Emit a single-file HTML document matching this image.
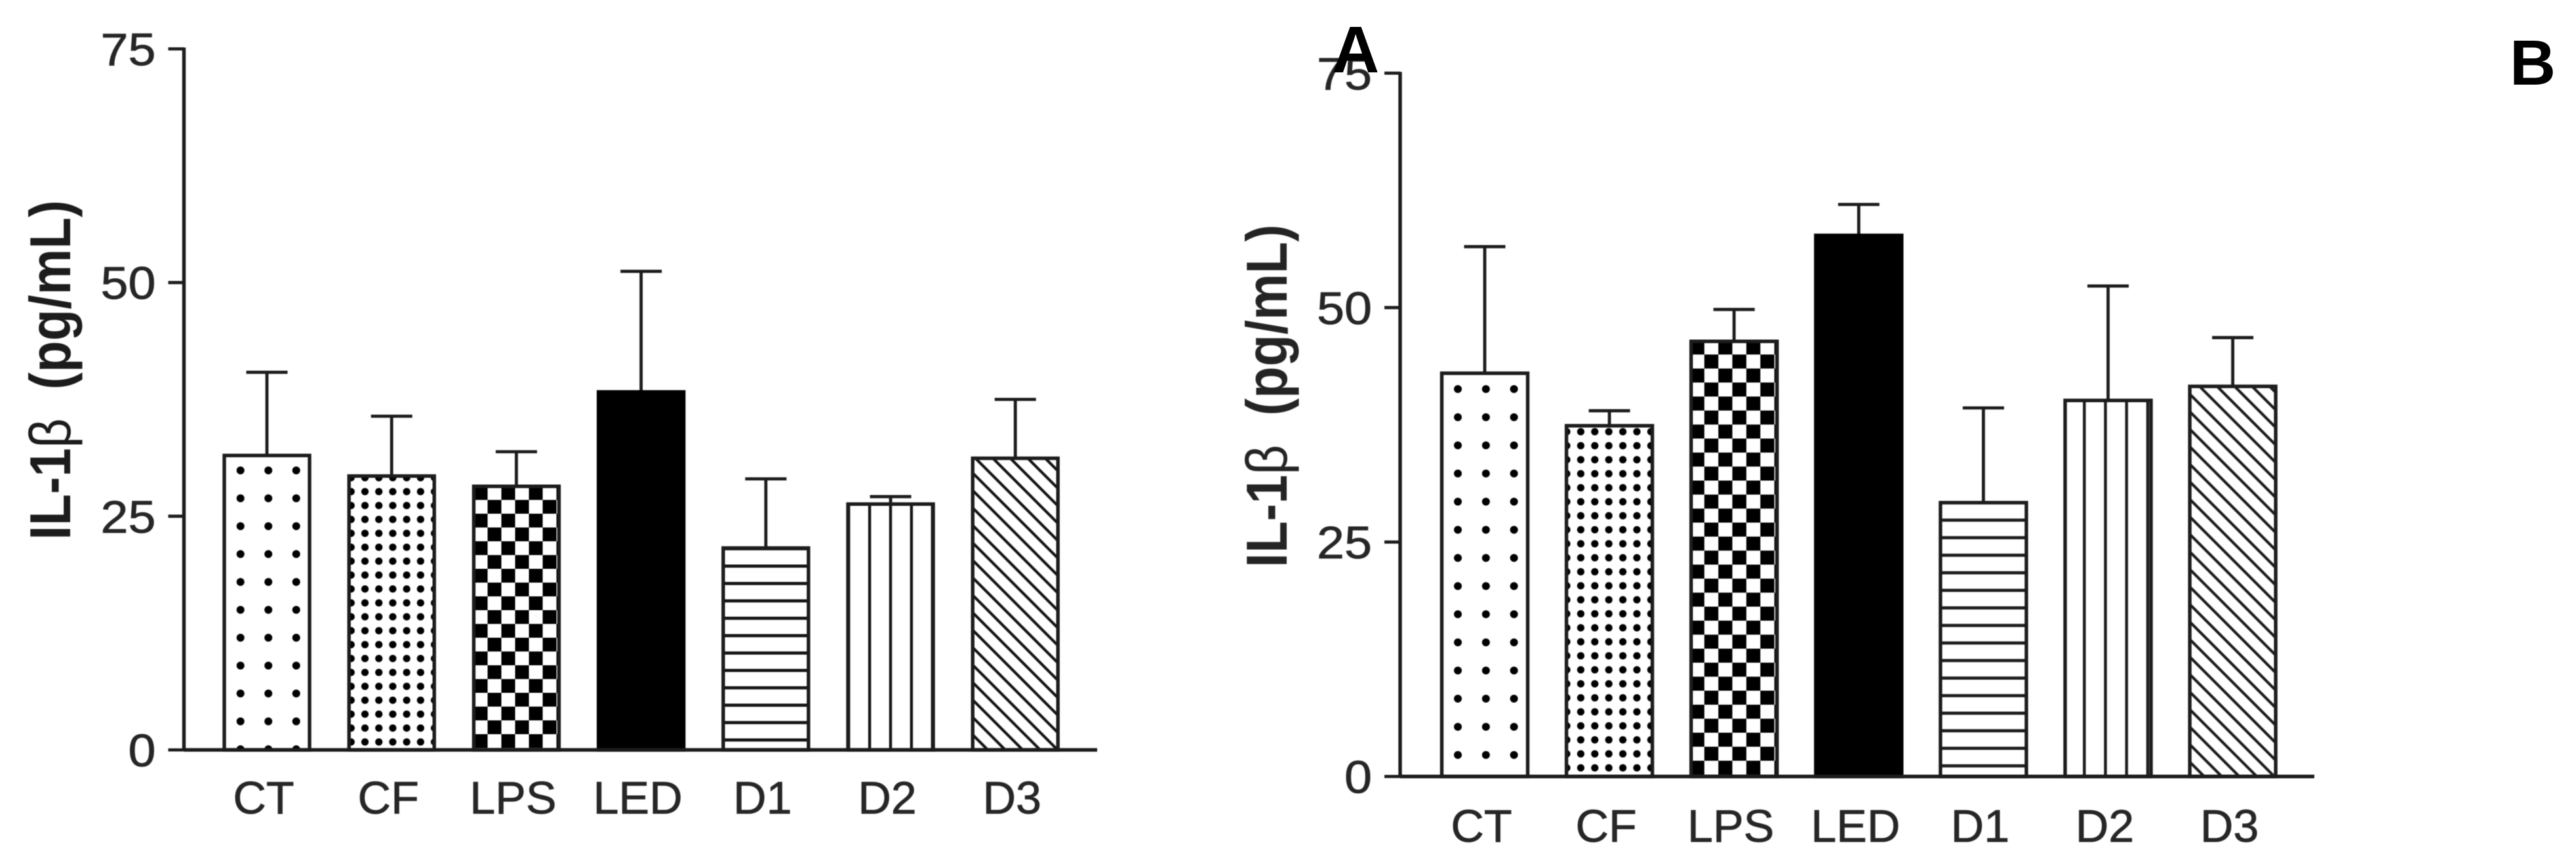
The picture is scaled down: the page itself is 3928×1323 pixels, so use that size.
<!DOCTYPE html>
<html lang="en">
<head>
<meta charset="utf-8">
<title>IL-1β bar charts</title>
<style>
  html, body { margin: 0; padding: 0; background: #fff; }
  svg { display: block; }
  text { font-family: "Liberation Sans", Arial, sans-serif; }
  .soft { filter: blur(0.6px); }
</style>
</head>
<body>
<svg id="figure" xmlns="http://www.w3.org/2000/svg" width="3928" height="1323" viewBox="0 0 3928 1323">
  <defs>
    <!-- Panel 1 fills -->
    <pattern id="a-ct" patternUnits="userSpaceOnUse" width="42.5" height="42.5" patternTransform="translate(345.45,695.75)"><circle cx="21.25" cy="21.25" r="6" fill="#000"/></pattern>
    <pattern id="a-cf" patternUnits="userSpaceOnUse" width="21.2" height="21.2" patternTransform="translate(545.9,738.7)"><circle cx="10.6" cy="10.6" r="5.6" fill="#000"/></pattern>
    <pattern id="a-lps" patternUnits="userSpaceOnUse" width="42" height="42" patternTransform="translate(722.5,741)"><rect x="0" y="0" width="21" height="21" fill="#000"/><rect x="21" y="21" width="21" height="21" fill="#000"/></pattern>
    <pattern id="a-led" patternUnits="userSpaceOnUse" width="10" height="10"><rect width="10" height="10" fill="#000"/></pattern>
    <pattern id="a-d1" patternUnits="userSpaceOnUse" width="20" height="26.5" patternTransform="translate(0,849.45)"><rect x="0" y="11" width="20" height="4.8" fill="#141414"/></pattern>
    <pattern id="a-d2" patternUnits="userSpaceOnUse" width="31.9" height="20" patternTransform="translate(1278.05,0)"><rect x="13.9" y="0" width="4.4" height="20" fill="#141414"/></pattern>
    <pattern id="a-d3" patternUnits="userSpaceOnUse" width="26.6" height="26.6" patternTransform="translate(1506.3,1143)"><path d="M-3 -3L29.6 29.6M-3 23.6L3 29.6M23.6 -3L29.6 3" stroke="#141414" stroke-width="4.2" fill="none"/></pattern>
    <!-- Panel 2 fills -->
    <pattern id="b-ct" patternUnits="userSpaceOnUse" width="42.8" height="42.9" patternTransform="translate(2201.6,571.55)"><circle cx="21.4" cy="21.45" r="6" fill="#000"/></pattern>
    <pattern id="b-cf" patternUnits="userSpaceOnUse" width="21.4" height="21.35" patternTransform="translate(2378.3,690)"><circle cx="10.7" cy="10.7" r="5.6" fill="#000"/></pattern>
    <pattern id="b-lps" patternUnits="userSpaceOnUse" width="42.7" height="42.7" patternTransform="translate(2577.5,519)"><rect x="0" y="0" width="21.35" height="21.35" fill="#000"/><rect x="21.35" y="21.35" width="21.35" height="21.35" fill="#000"/></pattern>
    <pattern id="b-led" patternUnits="userSpaceOnUse" width="10" height="10"><rect width="10" height="10" fill="#000"/></pattern>
    <pattern id="b-d1" patternUnits="userSpaceOnUse" width="20" height="26.75" patternTransform="translate(0,779.3)"><rect x="0" y="11.1" width="20" height="4.8" fill="#1c1c1c"/></pattern>
    <pattern id="b-d2" patternUnits="userSpaceOnUse" width="32.2" height="20" patternTransform="translate(3129.9,0)"><rect x="14" y="0" width="4.4" height="20" fill="#1c1c1c"/></pattern>
    <pattern id="b-d3" patternUnits="userSpaceOnUse" width="26.7" height="26.7" patternTransform="translate(3340,1162.3)"><path d="M-3 -3L29.7 29.7M-3 23.7L3 29.7M23.7 -3L29.7 3" stroke="#1c1c1c" stroke-width="4.2" fill="none"/></pattern>
  </defs>

  <g id="chart-left" class="soft">
    <text transform="translate(107,823) rotate(-90)" font-size="88" font-weight="700" fill="#1c1c1c" textLength="518" lengthAdjust="spacingAndGlyphs">IL-1<tspan font-weight="400">β</tspan>&#160;&#160;(pg/mL)</text>
  </g>
  <g id="chart-right" class="soft">
    <text transform="translate(1962,865) rotate(-90)" font-size="88" font-weight="700" fill="#242424" textLength="523" lengthAdjust="spacingAndGlyphs">IL-1<tspan font-weight="400">β</tspan>&#160;&#160;(pg/mL)</text>
  </g>

  <text id="panel-a" x="2031" y="110" font-size="100" font-weight="700" fill="#000">A</text>
  <text id="panel-b" x="3827" y="129" font-size="97" font-weight="700" fill="#000">B</text>
</svg>

<script>
const categories = ["CT", "CF", "LPS", "LED", "D1", "D2", "D3"];
const tickValues = [0, 25, 50, 75];
const leftMeans = [31.5, 29.3, 28.2, 38.3, 21.6, 26.3, 31.2];
const leftErrors = [8.9, 6.4, 3.7, 12.9, 7.4, 0.8, 6.3];
const rightMeans = [43.0, 37.4, 46.4, 57.7, 29.2, 40.1, 41.6];
const rightErrors = [13.5, 1.6, 3.4, 3.3, 10.1, 12.2, 5.2];
const fillKeys = ["ct", "cf", "lps", "led", "d1", "d2", "d3"];

const SVG_NS = "http://www.w3.org/2000/svg";
const INK = "#1c1c1c";

function make(parent, tag, attrs, text) {
  const el = document.createElementNS(SVG_NS, tag);
  for (const k in attrs) el.setAttribute(k, attrs[k]);
  if (text !== undefined) el.textContent = text;
  parent.appendChild(el);
  return el;
}

function drawChart(cfg, means, errors) {
  const root = document.getElementById(cfg.group);
  const yScale = v => cfg.y0 - (v / 75) * (cfg.y0 - cfg.y75);
  const xScale = i => cfg.x0 + i * cfg.step;

  categories.forEach((cat, i) => {
    const cx = xScale(i);
    const top = yScale(means[i]);
    const upper = yScale(means[i] + errors[i]);

    const stem = make(root, "line", { x1: cx, x2: cx, y1: top, y2: upper, stroke: INK, "stroke-width": 4.8 });
    
    

    const cap = make(root, "line", { x1: cx - cfg.cap / 2, x2: cx + cfg.cap / 2, y1: upper, y2: upper, stroke: INK, "stroke-width": 4.8 });
    
    

    const bar = make(root, "rect", {
      x: cx - cfg.barW / 2, y: top, width: cfg.barW, height: cfg.y0 - top,
      fill: "url(#" + cfg.prefix + "-" + fillKeys[i] + ")",
      stroke: i === 3 ? "#000" : INK, "stroke-width": 5.4
    });
    
    

    const label = make(root, "text", {
      x: cx - 5, y: cfg.labelY, "font-size": 70, "text-anchor": "middle", fill: "#262626",
      stroke: "#262626", "stroke-width": 0.8
    }, cat);
    
    
  });

  const yAxis = make(root, "line", { x1: cfg.axisX, x2: cfg.axisX, y1: yScale(75) - 2, y2: cfg.y0 + 2, stroke: INK, "stroke-width": 5.4 });
  
  

  const xAxis = make(root, "line", { x1: cfg.axisX, x2: cfg.axisEnd, y1: cfg.y0, y2: cfg.y0, stroke: INK, "stroke-width": 5.4 });
  
  

  tickValues.forEach(v => {
    const y = yScale(v);
    const tick = make(root, "line", { x1: cfg.axisX - 24, x2: cfg.axisX, y1: y, y2: y, stroke: INK, "stroke-width": 4.8 });
    
    

    const str = String(v);
    const tickLabel = make(root, "text", {
      x: cfg.axisX - 43, y: y + 25, "font-size": 70, "text-anchor": "end", fill: "#262626",
      stroke: "#262626", "stroke-width": 0.8,
      textLength: str.length * 42, lengthAdjust: "spacingAndGlyphs"
    }, str);
    
    
  });
}

drawChart({
  group: "chart-left", prefix: "a", x0: 407, step: 190.2, barW: 130, cap: 63,
  y0: 1143, y75: 74.5, axisX: 280.5, axisEnd: 1673, labelY: 1240
}, leftMeans, leftErrors);

drawChart({
  group: "chart-right", prefix: "b", x0: 2264, step: 190.1, barW: 131, cap: 63,
  y0: 1183.5, y75: 111.5, axisX: 2135, axisEnd: 3529, labelY: 1283
}, rightMeans, rightErrors);
</script>
</body>
</html>
